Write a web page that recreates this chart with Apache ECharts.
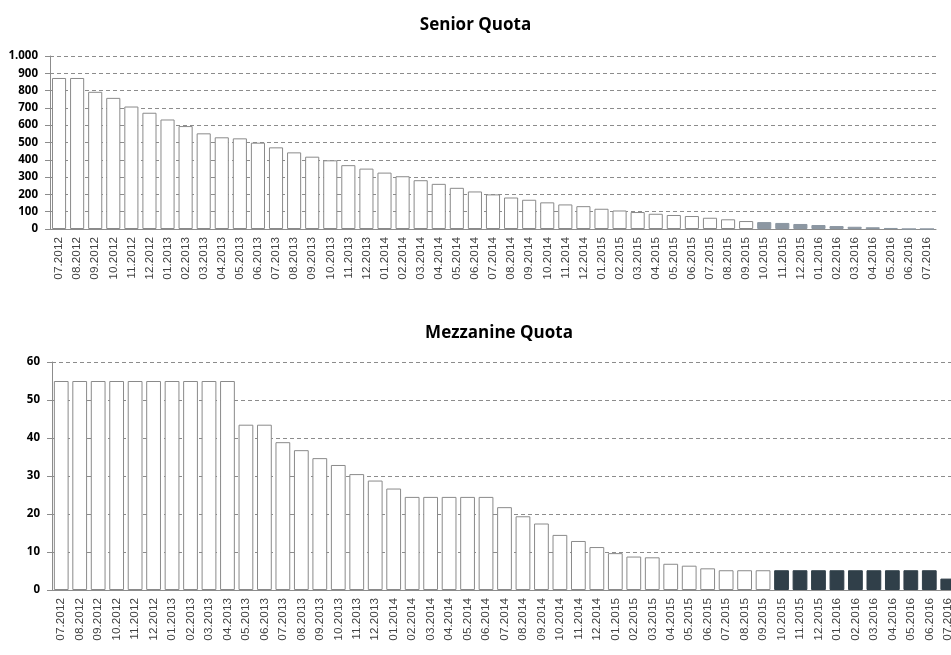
<!DOCTYPE html>
<html>
<head>
<meta charset="utf-8">
<script src="https://cdn.jsdelivr.net/npm/echarts@6/dist/echarts.min.js"></script>
<style>
  html, body { margin: 0; padding: 0; background: #fff; }
  #chart { width: 951px; height: 655px; }
</style>
</head>
<body>
<div id="chart"></div>
<script>
// months 07.2012 .. 07.2016
const months = [
  '07.2012','08.2012','09.2012','10.2012','11.2012','12.2012',
  '01.2013','02.2013','03.2013','04.2013','05.2013','06.2013','07.2013','08.2013','09.2013','10.2013','11.2013','12.2013',
  '01.2014','02.2014','03.2014','04.2014','05.2014','06.2014','07.2014','08.2014','09.2014','10.2014','11.2014','12.2014',
  '01.2015','02.2015','03.2015','04.2015','05.2015','06.2015','07.2015','08.2015','09.2015','10.2015','11.2015','12.2015',
  '01.2016','02.2016','03.2016','04.2016','05.2016','06.2016','07.2016'
]
const seniorQuota = [
  873, 873, 793, 758, 708, 672,
  633, 595, 553, 530, 524, 499, 472, 443, 418, 397, 369, 349,
  326, 305, 282, 261, 238, 217, 200, 182, 169, 154, 142, 132,
  117, 107, 98, 88, 81, 75, 65, 56, 46, 40, 35, 29,
  23, 17, 13, 10, 6, 0, 0
]
const mezzanineQuota = [
  55, 55, 55, 55, 55, 55,
  55, 55, 55, 55, 43.5, 43.5, 38.9, 36.8, 34.7, 32.9, 30.5, 28.8,
  26.7, 24.5, 24.5, 24.5, 24.5, 24.5, 21.8, 19.4, 17.5, 14.5, 12.9, 11.3,
  9.7, 8.8, 8.6, 6.9, 6.4, 5.7, 5.2, 5.2, 5.2, 5.2, 5.2, 5.2,
  5.2, 5.2, 5.2, 5.2, 5.2, 5.2, 3.0
]
const seniorTicks = [0, 100, 200, 300, 400, 500, 600, 700, 800, 900, 1000]
const mezzanineTicks = [0, 10, 20, 30, 40, 50, 60]
// bars from this month on are drawn filled
const filledFrom = months.indexOf('10.2015')

const chart = echarts.init(document.getElementById('chart'))

const axisGray = '#8c8c8c'
const openBar = { color: '#fff', borderColor: '#8a8a8a', borderWidth: 1 }

function barItems(values, fill) {
  return values.map((v, i) => ({
    value: v,
    itemStyle: i >= filledFrom ? { color: fill, borderColor: fill, borderWidth: 1 } : openBar
  }))
}

function xAxis(gridIndex) {
  return {
    type: 'category',
    gridIndex: gridIndex,
    data: months,
    axisLine: { lineStyle: { color: axisGray } },
    axisTick: { lineStyle: { color: axisGray }, length: 5 },
    axisLabel: {
      rotate: 90,
      interval: 0,
      margin: 8,
      color: '#404040',
      fontSize: 11.8,
      fontFamily: 'Liberation Sans'
    }
  }
}

function yAxis(gridIndex, ticks, fmt) {
  return {
    type: 'value',
    gridIndex: gridIndex,
    min: ticks[0],
    max: ticks[ticks.length - 1],
    interval: ticks[1] - ticks[0],
    axisLine: { show: true, lineStyle: { color: axisGray } },
    axisTick: { show: true, length: 5, lineStyle: { color: axisGray } },
    splitLine: { lineStyle: { color: '#8c8c8c', type: [4, 3] } },
    axisLabel: {
      color: '#000',
      fontSize: 11.5,
      fontWeight: 'bold',
      fontFamily: 'Open Sans',
      margin: 12,
      formatter: fmt
    }
  }
}

const option = {
  animation: false,
  title: [
    {
      text: 'Senior Quota',
      left: 'center',
      top: 12,
      textStyle: { fontFamily: 'Open Sans', fontWeight: 'bold', fontSize: 17, color: '#000' }
    },
    {
      text: 'Mezzanine Quota',
      left: 494,
      textAlign: 'center',
      top: 320,
      textStyle: { fontFamily: 'Open Sans', fontWeight: 'bold', fontSize: 17, color: '#000' }
    }
  ],
  grid: [
    { left: 50, width: 886, top: 56, height: 173, containLabel: false, outerBoundsMode: 'none' },
    // the reference crops the last month at the right edge
    { left: 52, width: 905, top: 362, height: 228, containLabel: false, outerBoundsMode: 'none' }
  ],
  xAxis: [xAxis(0), xAxis(1)],
  yAxis: [
    yAxis(0, seniorTicks, v => String(v).replace(/\B(?=(\d{3})+(?!\d))/g, '.')),
    yAxis(1, mezzanineTicks, v => v)
  ],
  series: [
    {
      name: 'Senior Quota',
      type: 'bar',
      xAxisIndex: 0,
      yAxisIndex: 0,
      barCategoryGap: '22%',
      data: barItems(seniorQuota, '#8c97a2')
    },
    {
      name: 'Mezzanine Quota',
      type: 'bar',
      xAxisIndex: 1,
      yAxisIndex: 1,
      barCategoryGap: '20%',
      data: barItems(mezzanineQuota, '#303f49')
    }
  ]
}

chart.setOption(option)
</script>
</body>
</html>
